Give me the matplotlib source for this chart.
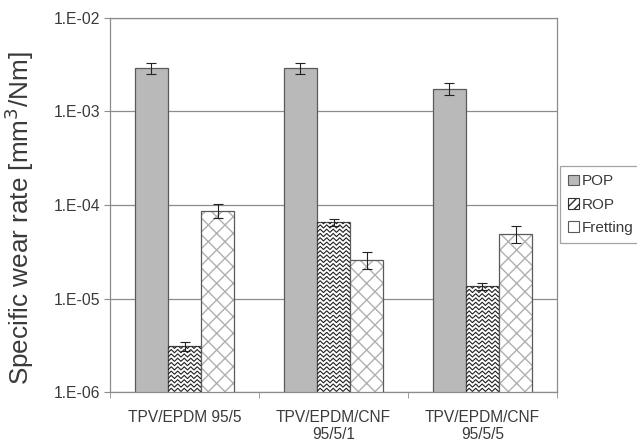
import numpy as np
import matplotlib

matplotlib.use("Agg")
import matplotlib.pyplot as plt
from matplotlib.patches import Patch
from matplotlib.collections import LineCollection
from matplotlib.transforms import IdentityTransform

plt.rcParams["font.family"] = ["Liberation Sans", "DejaVu Sans"]

# Data
categories = ["TPV/EPDM 95/5", "TPV/EPDM/CNF\n95/5/1", "TPV/EPDM/CNF\n95/5/5"]
series = ["POP", "ROP", "Fretting"]
pop_vals = [2.9e-3, 2.9e-3, 1.75e-3]
pop_err = [0.4e-3, 0.38e-3, 0.25e-3]
rop_vals = [3.1e-6, 6.5e-5, 1.35e-5]
rop_err = [0.35e-6, 0.6e-5, 0.12e-5]
fret_vals = [8.7e-5, 2.6e-5, 4.9e-5]
fret_err = [1.5e-5, 0.55e-5, 1.0e-5]
yticks = [1e-6, 1e-5, 1e-4, 1e-3, 1e-2]
ytick_labels = ["1.E-06", "1.E-05", "1.E-04", "1.E-03", "1.E-02"]

TEXT = "#3a3a3a"
EDGE = "#5a5a5a"
GRID = "#8c8c8c"
DPI = 100

fig = plt.figure(figsize=(6.37, 4.41), dpi=DPI)
ax = fig.add_axes([0.1727, 0.1111, 0.7017, 0.8481])

x = np.arange(len(categories))
w = 0.222
ax.set_yscale("log")
ax.set_ylim(1e-6, 1e-2)
ax.set_xlim(-0.5, len(categories) - 0.5)
ax.set_axisbelow(True)
ax.yaxis.grid(True, color=GRID, lw=0.9)

err_kw = dict(fmt="none", ecolor="#222222", elinewidth=0.8, capsize=3.5,
              capthick=0.8, zorder=5)

# POP
ax.bar(x - w, pop_vals, w, color="#b9b9b9", edgecolor=EDGE, lw=0.9, zorder=2)
ax.errorbar(x - w, pop_vals, yerr=pop_err, **err_kw)

# ROP: white bars, zigzag texture added below
rop_bars = ax.bar(x, rop_vals, w, color="white", edgecolor=EDGE, lw=0.9, zorder=2)
ax.errorbar(x, rop_vals, yerr=rop_err, **err_kw)

# Fretting: light-grey diamond hatch, then a darker outline on top
ax.bar(x + w, fret_vals, w, color="white", edgecolor="#b0b0b0", hatch="xx",
       lw=0, zorder=2)
ax.bar(x + w, fret_vals, w, fill=False, edgecolor=EDGE, lw=0.9, zorder=3)
ax.errorbar(x + w, fret_vals, yerr=fret_err, **err_kw)

# zigzag texture for ROP bars, built in pixel space and clipped to each bar
period, amp, spacing = 6.5, 1.6, 4.3
for bar in rop_bars:
    (x0, y0), (x1, y1) = ax.transData.transform(
        [(bar.get_x(), 1e-6),
         (bar.get_x() + bar.get_width(), bar.get_height())])
    xs = np.arange(x0 - period, x1 + period, period / 2)
    offs = np.where(np.arange(len(xs)) % 2 == 0, -amp, amp)
    segs = []
    yy = y0 + spacing / 2
    while yy < y1 + spacing:
        segs.append(np.column_stack([xs, yy + offs]))
        yy += spacing
    lc = LineCollection(segs, colors="#202020", linewidths=0.8,
                        transform=IdentityTransform(), zorder=2.5)
    ax.add_collection(lc)
    lc.set_clip_path(bar)

ax.set_yticks(yticks)
ax.set_yticklabels(ytick_labels)
ax.yaxis.set_minor_locator(matplotlib.ticker.NullLocator())
ax.set_xticks(x)
ax.set_xticklabels(categories)
ax.set_xticks(np.arange(len(categories) + 1) - 0.5, minor=True)
ax.tick_params(axis="x", which="major", length=0, pad=13, labelsize=11.2,
               labelcolor=TEXT)
ax.tick_params(axis="x", which="minor", length=4, color=GRID, direction="out")
ax.tick_params(axis="y", which="major", length=4, color=GRID, direction="out",
               labelsize=11.3, labelcolor=TEXT, pad=3)
for s in ax.spines.values():
    s.set_color(GRID)
    s.set_linewidth(0.9)

ax.set_ylabel("Specific wear rate [mm$^3$/Nm]", fontsize=18.8, color=TEXT)
ax.yaxis.set_label_coords(-0.165, 0.464)

handles = [
    Patch(facecolor="#b9b9b9", edgecolor=EDGE, lw=0.8, label="POP"),
    Patch(facecolor="white", edgecolor="#303030", hatch="////", lw=0.8, label="ROP"),
    Patch(facecolor="white", edgecolor=EDGE, lw=0.8, label="Fretting"),
]
leg = fig.legend(handles=handles, loc="upper left",
                 bbox_to_anchor=(560 / 637, (441 - 166) / 441),
                 borderaxespad=0, fontsize=11, frameon=True, fancybox=False,
                 edgecolor=GRID, handlelength=0.7, handleheight=0.7,
                 handletextpad=0.2, labelspacing=0.6, borderpad=0.55,
                 labelcolor=TEXT)
leg.get_frame().set_linewidth(0.9)

fig.savefig("out.png", dpi=DPI)
